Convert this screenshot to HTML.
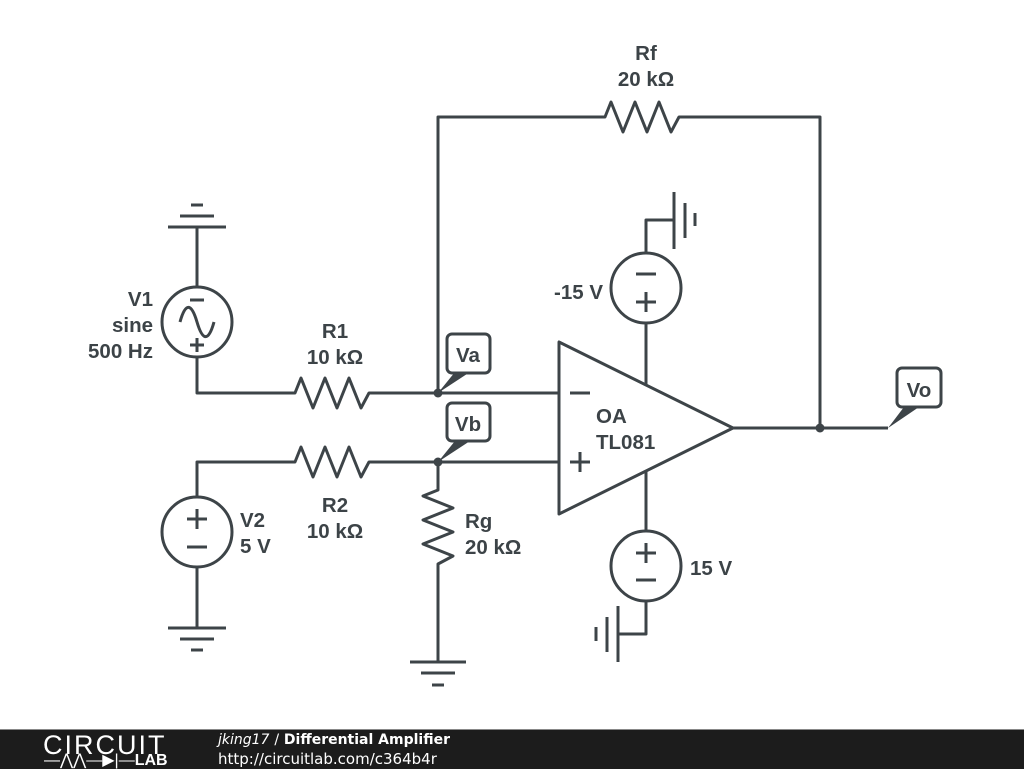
<!DOCTYPE html>
<html><head><style>
body{margin:0;width:1024px;height:768px;background:#fff;overflow:hidden;position:relative}
svg{position:absolute;left:0;top:0}
text{font-family:"Liberation Sans",sans-serif;font-weight:bold;font-size:20.5px;fill:#3c4347}
.f{position:absolute;left:0;top:729px;width:1024px;height:39px;background:#1c1c1c;border-top:1px solid #888}
</style></head><body>
<svg width="1024" height="768" viewBox="0 0 1024 768">
<g fill="none" stroke="#3d4448" stroke-width="3" stroke-linejoin="round">
<line x1="168" y1="227" x2="226" y2="227"/><line x1="180" y1="216" x2="214" y2="216"/><line x1="191" y1="205" x2="203" y2="205"/>
<line x1="197" y1="227" x2="197" y2="287"/>
<circle cx="197" cy="322" r="35"/>
<path d="M180 322 C186 300,192 305,197 322 C202 339,208 344,214 322"/>
<line x1="190" y1="300" x2="204" y2="300"/><line x1="190" y1="345" x2="204" y2="345"/><line x1="197" y1="338" x2="197" y2="352"/>
<polyline points="197,357 197,393 295,393 301,378 313,408 325,378 337,408 349,378 361,408 369,393 375,393 558,393"/>
<polyline points="438,393 438,117 605,117 611,102 623,132 635,102 647,132 659,102 671,132 679,117 685,117 820,117 820,428"/>
<circle cx="197" cy="532" r="35"/>
<line x1="187" y1="519" x2="207" y2="519"/><line x1="197" y1="509" x2="197" y2="529"/><line x1="187" y1="547" x2="207" y2="547"/>
<polyline points="197,497 197,462 295,462 301,447 313,477 325,447 337,477 349,447 361,477 369,462 375,462 558,462"/>
<line x1="197" y1="567" x2="197" y2="628"/>
<line x1="168" y1="628" x2="226" y2="628"/><line x1="180" y1="639" x2="214" y2="639"/><line x1="191" y1="650" x2="203" y2="650"/>
<polyline points="438,462 438,490 423,496 453,508 423,520 453,532 423,544 453,556 438,564 438,662"/>
<line x1="410" y1="662" x2="466" y2="662"/><line x1="421" y1="673" x2="455" y2="673"/><line x1="432" y1="685" x2="444" y2="685"/>
<polygon points="559,342 559,514 733,428"/>
<line x1="570" y1="393" x2="590" y2="393"/>
<line x1="570" y1="462" x2="590" y2="462"/><line x1="580" y1="452" x2="580" y2="472"/>
<line x1="733" y1="428" x2="888" y2="428"/>
<circle cx="646" cy="288" r="35"/>
<line x1="636" y1="274" x2="656" y2="274"/><line x1="636" y1="302" x2="656" y2="302"/><line x1="646" y1="292" x2="646" y2="312"/>
<polyline points="646,253 646,220 674,220"/>
<line x1="674" y1="192" x2="674" y2="249"/><line x1="685" y1="203" x2="685" y2="238"/><line x1="695" y1="213" x2="695" y2="226"/>
<line x1="646" y1="323" x2="646" y2="385"/>
<circle cx="646" cy="566" r="35"/>
<line x1="636" y1="553" x2="656" y2="553"/><line x1="646" y1="543" x2="646" y2="563"/><line x1="636" y1="580" x2="656" y2="580"/>
<line x1="646" y1="471" x2="646" y2="531"/>
<polyline points="646,601 646,634 618,634"/>
<line x1="618" y1="606" x2="618" y2="662"/><line x1="607" y1="617" x2="607" y2="652"/><line x1="596" y1="627" x2="596" y2="641"/>
<rect x="447" y="334" width="43" height="39" rx="5"/>
<rect x="447" y="403" width="43" height="38" rx="5"/>
<rect x="897" y="368" width="44" height="39" rx="5"/>
</g>
<g fill="#3d4448">
<circle cx="438" cy="393" r="4.5"/><circle cx="438" cy="462" r="4.5"/><circle cx="820" cy="428" r="4.5"/>
<polygon points="438,393 455,372 470,372"/>
<polygon points="438,462 455,441 470,441"/>
<polygon points="888,428 904,407 919,407"/>
</g>
<text x="646" y="60" text-anchor="middle">Rf</text>
<text x="646" y="86" text-anchor="middle">20 kΩ</text>
<text x="153" y="306" text-anchor="end">V1</text>
<text x="153" y="332" text-anchor="end">sine</text>
<text x="153" y="358" text-anchor="end">500 Hz</text>
<text x="335" y="338" text-anchor="middle">R1</text>
<text x="335" y="364" text-anchor="middle">10 kΩ</text>
<text x="335" y="512" text-anchor="middle">R2</text>
<text x="335" y="538" text-anchor="middle">10 kΩ</text>
<text x="240" y="527">V2</text>
<text x="240" y="553">5 V</text>
<text x="465" y="528">Rg</text>
<text x="465" y="554">20 kΩ</text>
<text x="603" y="299" text-anchor="end">-15 V</text>
<text x="690" y="575">15 V</text>
<text x="596" y="423">OA</text>
<text x="596" y="449">TL081</text>
<text x="468" y="362" text-anchor="middle">Va</text>
<text x="468" y="431" text-anchor="middle">Vb</text>
<text x="919" y="397" text-anchor="middle">Vo</text>
</svg>
<div class="f">
<div style="position:absolute;left:43px;top:0px;color:#fff;font:27px 'Liberation Sans',sans-serif;letter-spacing:2px">CIRCUIT</div>
<div style="position:absolute;left:44px;top:20px;color:#fff;font:bold 16px 'Liberation Sans',sans-serif;"><span style="font-weight:normal">—⋀⋀—▶|—</span>LAB</div>
<div style="position:absolute;left:218px;top:2px;color:#fff;font:bold 14px 'DejaVu Sans',sans-serif"><i style="font-weight:normal">jking17</i> <span style="font-weight:normal">/</span> Differential Amplifier</div>
<div style="position:absolute;left:218px;top:20px;color:#fff;font:15px 'DejaVu Sans',sans-serif">http://circuitlab.com/c364b4r</div>
</div>
</body></html>
